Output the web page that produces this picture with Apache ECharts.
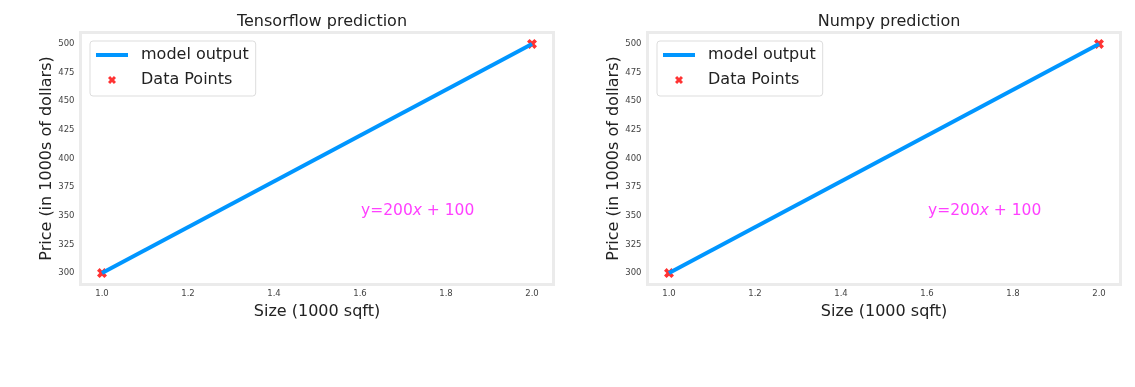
<!DOCTYPE html>
<html>
<head>
<meta charset="utf-8">
<script src="https://cdn.jsdelivr.net/npm/echarts@6/dist/echarts.min.js"></script>
<style>
html,body{margin:0;padding:0;background:#fff;}
#chart{width:1135px;height:387px;}
</style>
</head>
<body>
<div id="chart"></div>
<script>
// ---- data ----
const titles = ['Tensorflow prediction', 'Numpy prediction'];
const sizes = [1.0, 2.0];
const prices = [300, 500];
const tfPrediction = [300, 500];
const npPrediction = [300, 500];
const xTicks = [1.0, 1.2, 1.4, 1.6, 1.8, 2.0];
const yTicks = [300, 325, 350, 375, 400, 425, 450, 475, 500];
const annotationPos = [1.6, 350];
const xName = 'Size (1000 sqft)';
const yName = 'Price (in 1000s of dollars)';
const legendNames = ['model output', 'Data Points'];

const FONT = 'DejaVu Sans';
const BLUE = '#0096FF';
const RED = '#FF0000';
const MAGENTA = '#FF40FF';
const X_SYMBOL = 'path://M0,2.6 L2.6,0 L5,2.4 L7.4,0 L10,2.6 L7.6,5 L10,7.4 L7.4,10 L5,7.6 L2.6,10 L0,7.4 L2.4,5 Z';
const LINE_ICON = 'path://M0,0 L32,0 L32,4 L0,4 Z';

const preds = [tfPrediction, npPrediction];
const gridLefts = [80.5, 647.5];

const chart = echarts.init(document.getElementById('chart'), null, {renderer: 'canvas'});

const option = {
  animation: false,
  backgroundColor: '#ffffff',
  title: titles.map((t, i) => ({
    text: t,
    left: gridLefts[i] + 236.5,
    textAlign: 'center',
    top: 9,
    textStyle: {fontFamily: FONT, fontSize: 16, fontWeight: 'normal', color: '#222'}
  })),
  legend: [0, 1].map(i => ({
    left: gridLefts[i] + 9.5,
    top: 41,
    orient: 'vertical',
    data: [
      {name: legendNames[0] + (i ? ' ' : ''), icon: LINE_ICON},
      {name: legendNames[1] + (i ? ' ' : ''), icon: X_SYMBOL}
    ],
    formatter: n => n.trim(),
    itemWidth: 32,
    itemHeight: 8,
    itemGap: 9,
    padding: [6, 7, 8, 6],
    borderColor: '#dddddd',
    borderWidth: 1,
    borderRadius: 3,
    backgroundColor: 'rgba(255,255,255,0.8)',
    textStyle: {fontFamily: FONT, fontSize: 16, color: '#222', lineHeight: 16, padding: [0, 0, 0, 8]}
  })),
  grid: gridLefts.map(l => ({
    left: l, top: 32.5, width: 473, height: 252,
    show: true, borderColor: '#ebebeb', borderWidth: 3, backgroundColor: 'transparent'
  })),
  xAxis: [0, 1].map(i => ({
    type: 'value', gridIndex: i, min: 0.95, max: 2.05,
    splitLine: {show: false}, axisLine: {show: false}, axisTick: {show: false},
    axisLabel: {
      customValues: xTicks, margin: 5,
      formatter: v => v.toFixed(1),
      fontFamily: FONT, fontSize: 8.5, color: '#444'
    },
    name: xName, nameLocation: 'middle', nameGap: 19,
    nameTextStyle: {fontFamily: FONT, fontSize: 16, color: '#222'}
  })),
  yAxis: [0, 1].map(i => ({
    type: 'value', gridIndex: i, min: 290, max: 510,
    splitLine: {show: false}, axisLine: {show: false}, axisTick: {show: false},
    axisLabel: {
      customValues: yTicks, margin: 6,
      fontFamily: FONT, fontSize: 8.5, color: '#444'
    },
    name: yName, nameLocation: 'middle', nameGap: 26, nameRotate: 90,
    nameTextStyle: {fontFamily: FONT, fontSize: 16, color: '#222'}
  })),
  series: []
};

[0, 1].forEach(i => {
  const suffix = i ? ' ' : '';
  option.series.push({
    name: legendNames[0] + suffix,
    type: 'line',
    xAxisIndex: i, yAxisIndex: i,
    data: sizes.map((s, k) => [s, preds[i][k]]),
    symbol: 'none',
    lineStyle: {color: BLUE, width: 4},
    itemStyle: {color: BLUE},
    z: 3,
    markPoint: {
      symbol: 'circle', symbolSize: 0,
      data: [{coord: annotationPos, value: 0}],
      label: {
        show: true,
        position: 'right',
        distance: 1,
        offset: [0, -5],
        formatter: '{a|y=200}{i|x}{a| + 100}',
        rich: {
          a: {fontFamily: FONT, fontSize: 15.5, color: MAGENTA},
          i: {fontFamily: FONT, fontSize: 15.5, fontStyle: 'italic', color: MAGENTA}
        }
      }
    }
  });
  option.series.push({
    name: legendNames[1] + suffix,
    type: 'scatter',
    xAxisIndex: i, yAxisIndex: i,
    data: sizes.map((s, k) => [s, prices[k]]),
    symbol: X_SYMBOL,
    symbolSize: 10,
    itemStyle: {color: RED},
    z: 2
  });
});

chart.setOption(option);
</script>
</body>
</html>
